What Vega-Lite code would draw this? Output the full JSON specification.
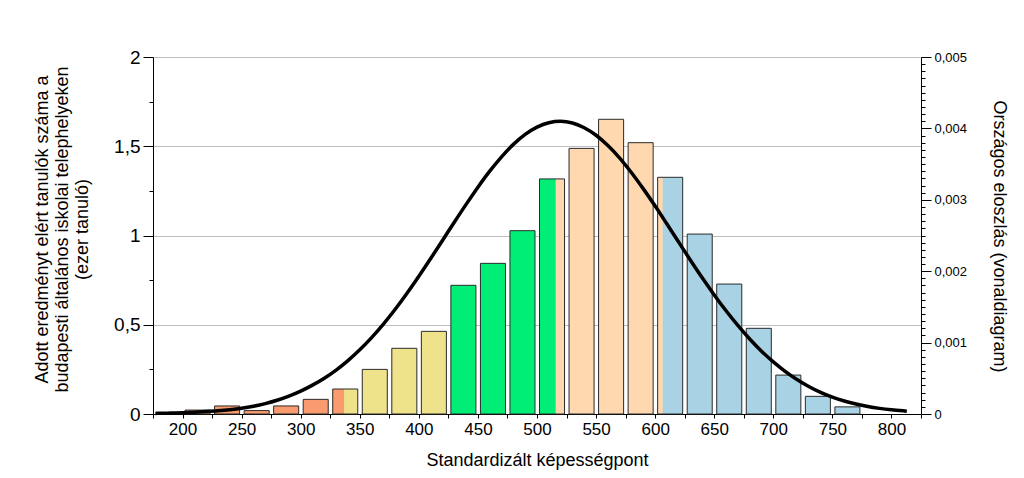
{
  "$schema": "https://vega.github.io/schema/vega-lite/v6.json",
  "width": 768,
  "height": 357,
  "autosize": "none",
  "padding": {"left": 153, "top": 57, "right": 103, "bottom": 64},
  "background": "white",
  "config": {
    "view": {"stroke": null},
    "font": "Liberation Sans",
    "axis": {
      "labelFont": "Liberation Sans",
      "titleFont": "Liberation Sans",
      "labelColor": "#000000",
      "titleColor": "#000000",
      "domainColor": "#000000",
      "tickColor": "#000000",
      "titleFontWeight": "normal"
    }
  },
  "datasets": {
    "bars": [
      {"from": 200, "to": 225, "value": 0.022, "cat": "1"},
      {"from": 225, "to": 250, "value": 0.045, "cat": "1"},
      {"from": 250, "to": 275, "value": 0.019, "cat": "1"},
      {"from": 275, "to": 300, "value": 0.045, "cat": "1"},
      {"from": 300, "to": 325, "value": 0.082, "cat": "1"},
      {"from": 325, "to": 350, "value": 0.14, "cat": "2"},
      {"from": 350, "to": 375, "value": 0.25, "cat": "2"},
      {"from": 375, "to": 400, "value": 0.368, "cat": "2"},
      {"from": 400, "to": 425, "value": 0.463, "cat": "2"},
      {"from": 425, "to": 450, "value": 0.721, "cat": "3"},
      {"from": 450, "to": 475, "value": 0.844, "cat": "3"},
      {"from": 475, "to": 500, "value": 1.027, "cat": "3"},
      {"from": 500, "to": 525, "value": 1.317, "cat": "4"},
      {"from": 525, "to": 550, "value": 1.488, "cat": "4"},
      {"from": 550, "to": 575, "value": 1.651, "cat": "4"},
      {"from": 575, "to": 600, "value": 1.52, "cat": "4"},
      {"from": 600, "to": 625, "value": 1.326, "cat": "5"},
      {"from": 625, "to": 650, "value": 1.008, "cat": "5"},
      {"from": 650, "to": 675, "value": 0.728, "cat": "5"},
      {"from": 675, "to": 700, "value": 0.48, "cat": "5"},
      {"from": 700, "to": 725, "value": 0.218, "cat": "5"},
      {"from": 725, "to": 750, "value": 0.099, "cat": "5"},
      {"from": 750, "to": 775, "value": 0.04, "cat": "5"}
    ],
    "splits": [
      {"from": 325, "split": 336.7, "value": 0.14, "cat": "1"},
      {"from": 500, "split": 515.8, "value": 1.317, "cat": "3"},
      {"from": 600, "split": 606.4, "value": 1.326, "cat": "4"}
    ],
    "curve": [
      {"score": 177, "density": 0.0000085},
      {"score": 180, "density": 0.0000093},
      {"score": 190, "density": 0.0000133},
      {"score": 200, "density": 0.0000187},
      {"score": 210, "density": 0.000026},
      {"score": 220, "density": 0.000035},
      {"score": 230, "density": 0.000046},
      {"score": 240, "density": 0.000061},
      {"score": 250, "density": 0.000081},
      {"score": 260, "density": 0.000109},
      {"score": 270, "density": 0.000146},
      {"score": 280, "density": 0.000192},
      {"score": 290, "density": 0.00025},
      {"score": 300, "density": 0.00032},
      {"score": 310, "density": 0.000404},
      {"score": 320, "density": 0.000501},
      {"score": 330, "density": 0.000615},
      {"score": 340, "density": 0.000748},
      {"score": 350, "density": 0.000899},
      {"score": 360, "density": 0.00107},
      {"score": 370, "density": 0.00126},
      {"score": 380, "density": 0.001467},
      {"score": 390, "density": 0.001691},
      {"score": 400, "density": 0.001929},
      {"score": 410, "density": 0.002177},
      {"score": 420, "density": 0.002431},
      {"score": 430, "density": 0.002686},
      {"score": 440, "density": 0.002936},
      {"score": 450, "density": 0.003177},
      {"score": 460, "density": 0.003401},
      {"score": 470, "density": 0.003602},
      {"score": 480, "density": 0.003776},
      {"score": 490, "density": 0.003916},
      {"score": 500, "density": 0.004018},
      {"score": 510, "density": 0.00408},
      {"score": 520, "density": 0.0041},
      {"score": 530, "density": 0.004076},
      {"score": 540, "density": 0.00401},
      {"score": 550, "density": 0.003904},
      {"score": 560, "density": 0.00376},
      {"score": 570, "density": 0.003584},
      {"score": 580, "density": 0.003379},
      {"score": 590, "density": 0.003153},
      {"score": 600, "density": 0.002912},
      {"score": 610, "density": 0.00266},
      {"score": 620, "density": 0.002405},
      {"score": 630, "density": 0.002151},
      {"score": 640, "density": 0.001904},
      {"score": 650, "density": 0.001668},
      {"score": 660, "density": 0.001446},
      {"score": 670, "density": 0.00124},
      {"score": 680, "density": 0.00105},
      {"score": 690, "density": 0.00088},
      {"score": 700, "density": 0.00073},
      {"score": 710, "density": 0.000598},
      {"score": 720, "density": 0.000484},
      {"score": 730, "density": 0.000386},
      {"score": 740, "density": 0.000303},
      {"score": 750, "density": 0.000236},
      {"score": 760, "density": 0.000182},
      {"score": 770, "density": 0.000139},
      {"score": 780, "density": 0.000105},
      {"score": 790, "density": 0.000079},
      {"score": 800, "density": 0.000059},
      {"score": 810, "density": 0.000044},
      {"score": 813, "density": 0.00004}
    ]
  },
  "layer": [
    {
      "encoding": {
        "x": {
          "field": "from",
          "type": "quantitative",
          "scale": {"domain": [175, 825], "nice": false, "zero": false},
          "axis": {
            "values": [175, 200, 225, 250, 275, 300, 325, 350, 375, 400, 425, 450, 475, 500, 525, 550, 575, 600, 625, 650, 675, 700, 725, 750, 775, 800, 825],
            "labelExpr": "datum.value % 50 == 0 ? format(datum.value, 'd') : ''",
            "tickSize": 4,
            "labelFontSize": 17,
            "labelPadding": 3,
            "labelFlush": false,
            "labelOverlap": false,
            "labelBound": false,
            "grid": false,
            "title": "Standardizált képességpont",
            "titleFontSize": 18,
            "titleX": 384,
            "titleY": 51,
            "titleBaseline": "alphabetic"
          }
        },
        "y": {
          "field": "value",
          "type": "quantitative",
          "scale": {"domain": [0, 2], "nice": false},
          "axis": {
            "values": [0, 0.25, 0.5, 0.75, 1, 1.25, 1.5, 1.75, 2],
            "labelExpr": "datum.value % 0.5 == 0 ? replace(format(datum.value, ''), '.', ',') : ''",
            "tickSize": {"condition": {"test": "datum.value % 0.5 == 0", "value": 10}, "value": 4},
            "labelFontSize": 19,
            "labelPadding": 3,
            "labelFlush": false,
            "labelOverlap": false,
            "grid": true,
            "gridColor": "#BEBEBE",
            "gridOpacity": {"condition": {"test": "datum.value % 0.5 == 0 && datum.value > 0", "value": 1}, "value": 0},
            "title": ["Adott eredményt elért tanulók száma a", "budapesti általános iskolai telephelyeken", "(ezer tanuló)"],
            "titleFontSize": 18,
            "titleLineHeight": 20,
            "titleX": -111,
            "titleY": 172,
            "titleBaseline": "middle",
            "titleAlign": "center"
          }
        },
        "y2": {"datum": 0}
      },
      "layer": [
        {
          "data": {"name": "bars"},
          "mark": {"type": "rect", "xOffset": 2.5, "x2Offset": -2, "strokeWidth": 0},
          "encoding": {
            "x2": {"field": "to"},
            "color": {
              "field": "cat",
              "type": "nominal",
              "scale": {"domain": ["1", "2", "3", "4", "5"], "range": ["#F99B6E", "#EEE28A", "#00EE76", "#FFD8B0", "#A9D3E4"]},
              "legend": null
            }
          }
        },
        {
          "data": {"name": "splits"},
          "mark": {"type": "rect", "xOffset": 2.5, "x2Offset": 0, "strokeWidth": 0},
          "encoding": {
            "x2": {"field": "split"},
            "color": {"field": "cat", "type": "nominal", "legend": null}
          }
        },
        {
          "data": {"name": "bars"},
          "mark": {"type": "rect", "xOffset": 2.5, "x2Offset": -2, "fill": "transparent", "stroke": "#2A2A2A", "strokeWidth": 1},
          "encoding": {
            "x2": {"field": "to"}
          }
        }
      ]
    },
    {
      "data": {"name": "curve"},
      "mark": {"type": "line", "color": "#000000", "strokeWidth": 3.5, "interpolate": "monotone"},
      "encoding": {
        "x": {
          "field": "score",
          "type": "quantitative",
          "axis": {
            "values": [175, 200, 225, 250, 275, 300, 325, 350, 375, 400, 425, 450, 475, 500, 525, 550, 575, 600, 625, 650, 675, 700, 725, 750, 775, 800, 825],
            "labelExpr": "datum.value % 50 == 0 ? format(datum.value, 'd') : ''",
            "tickSize": 4,
            "labelFontSize": 17,
            "labelPadding": 3,
            "labelFlush": false,
            "labelOverlap": false,
            "labelBound": false,
            "grid": false,
            "title": "Standardizált képességpont",
            "titleFontSize": 18,
            "titleX": 384,
            "titleY": 51,
            "titleBaseline": "alphabetic"
          }
        },
        "y": {
          "field": "density",
          "type": "quantitative",
          "scale": {"domain": [0, 0.005], "nice": false},
          "axis": {
            "orient": "right",
            "values": [0, 0.0001, 0.0002, 0.0003, 0.0004, 0.0005, 0.0006, 0.0007, 0.0008, 0.0009, 0.001, 0.0011, 0.0012, 0.0013, 0.0014, 0.0015, 0.0016, 0.0017, 0.0018, 0.0019, 0.002, 0.0021, 0.0022, 0.0023, 0.0024, 0.0025, 0.0026, 0.0027, 0.0028, 0.0029, 0.003, 0.0031, 0.0032, 0.0033, 0.0034, 0.0035, 0.0036, 0.0037, 0.0038, 0.0039, 0.004, 0.0041, 0.0042, 0.0043, 0.0044, 0.0045, 0.0046, 0.0047, 0.0048, 0.0049, 0.005],
            "labelExpr": "abs(datum.value * 1000 - round(datum.value * 1000)) < 0.001 ? (datum.value == 0 ? '0' : replace(format(datum.value, '.3f'), '.', ',')) : ''",
            "tickSize": {"condition": {"test": "abs(datum.value * 1000 - round(datum.value * 1000)) < 0.001", "value": 10}, "value": 4},
            "labelFontSize": 13,
            "labelPadding": 3,
            "labelFlush": false,
            "labelOverlap": false,
            "grid": false,
            "title": "Országos eloszlás (vonaldiagram)",
            "titleFontSize": 18,
            "titleAngle": 90,
            "titleX": 77,
            "titleY": 179,
            "titleBaseline": "middle",
            "titleAlign": "center"
          }
        }
      }
    }
  ],
  "resolve": {"scale": {"y": "independent"}}
}
